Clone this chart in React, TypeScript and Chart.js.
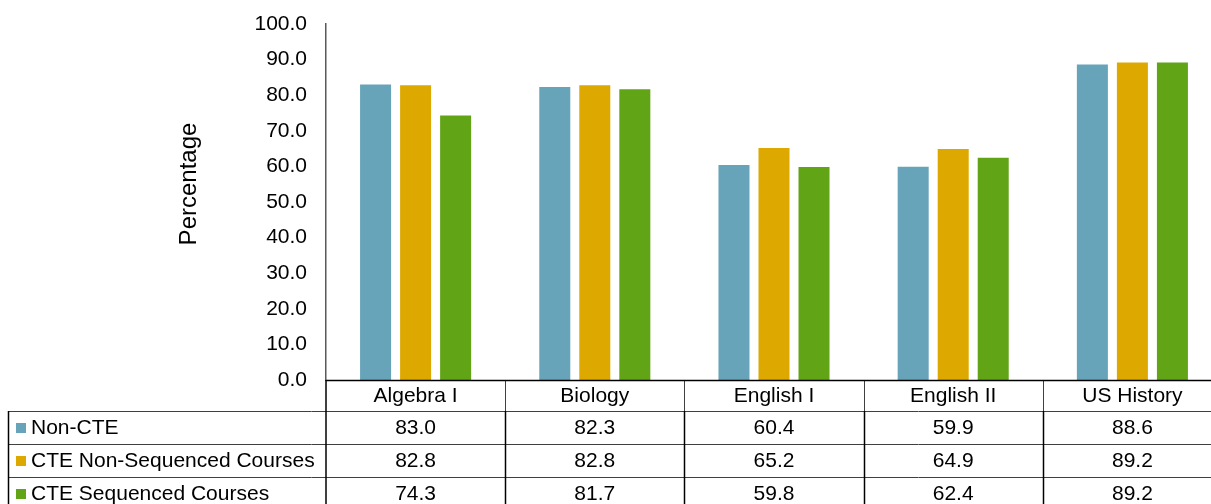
import React, { useEffect, useRef } from "react";
import { Chart, registerables } from "chart.js";

Chart.register(...registerables);

const categories = ["Algebra I", "Biology", "English I", "English II", "US History"];
const seriesNames = ["Non-CTE", "CTE Non-Sequenced Courses", "CTE Sequenced Courses"];
const nonCTE = [83.0, 82.3, 60.4, 59.9, 88.6];
const cteNonSequenced = [82.8, 82.8, 65.2, 64.9, 89.2];
const cteSequenced = [74.3, 81.7, 59.8, 62.4, 89.2];
const seriesColors = ["#67A3B9", "#DDA900", "#61A517"];
const yMin = 0;
const yMax = 100;
const yStep = 10;
const yTitle = "Percentage";

const FONT = "Liberation Sans, Arial, sans-serif";
const FS = 21;

const W = 1230;
const H = 520;

const tablePlugin = {
  id: "dataTable",
  afterDraw(chart: any) {
    const ctx = chart.ctx as CanvasRenderingContext2D;
    const area = chart.chartArea;
    const xs = chart.scales.x;
    const n = categories.length;
    const cw = (area.right - area.left) / n;
    const tableLeft = 8;
    const headerTop = area.bottom;
    const headerBottom = 411;
    const rowH = 33;
    const rows = [nonCTE, cteNonSequenced, cteSequenced];
    const tableBottom = headerBottom + rowH * rows.length;

    ctx.save();
    // y-axis title
    ctx.fillStyle = "#000";
    ctx.font = `24px ${FONT}`;
    ctx.save();
    ctx.translate(189, 184);
    ctx.rotate(-Math.PI / 2);
    ctx.textAlign = "center";
    ctx.textBaseline = "middle";
    ctx.fillText(yTitle, 0, 0);
    ctx.restore();

    // header vertical lines (gray)
    ctx.strokeStyle = "#404040";
    ctx.lineWidth = 1;
    for (let i = 1; i <= n; i++) {
      const x = Math.round(area.left + cw * i) + 0.5;
      ctx.beginPath();
      ctx.moveTo(x, headerTop);
      ctx.lineTo(x, headerBottom);
      ctx.stroke();
    }
    // horizontal lines
    ctx.strokeStyle = "#404040";
    for (let r = 0; r <= rows.length; r++) {
      const y = Math.round(headerBottom + rowH * r) + 0.5;
      ctx.beginPath();
      ctx.moveTo(tableLeft, y);
      ctx.lineTo(area.right, y);
      ctx.stroke();
    }
    // data row vertical lines (black)
    ctx.strokeStyle = "#000";
    ctx.lineWidth = 1.5;
    const vx = [tableLeft + 0.5, area.left];
    for (let i = 1; i <= n; i++) vx.push(Math.round(area.left + cw * i) + 0.5);
    vx.forEach((x) => {
      ctx.beginPath();
      ctx.moveTo(x, headerBottom);
      ctx.lineTo(x, tableBottom);
      ctx.stroke();
    });
    // axis line through header
    ctx.beginPath();
    ctx.moveTo(area.left, headerTop);
    ctx.lineTo(area.left, headerBottom);
    ctx.stroke();
    // bottom axis line
    ctx.lineWidth = 1.5;
    ctx.beginPath();
    ctx.moveTo(area.left, area.bottom + 0.5);
    ctx.lineTo(area.right, area.bottom + 0.5);
    ctx.stroke();

    // header labels
    ctx.fillStyle = "#000";
    ctx.font = `${FS}px ${FONT}`;
    ctx.textAlign = "center";
    ctx.textBaseline = "middle";
    categories.forEach((c, i) => {
      ctx.fillText(c, xs.getPixelForValue(i), (headerTop + headerBottom) / 2 + 1);
    });

    // rows
    rows.forEach((vals, r) => {
      const cy = headerBottom + rowH * r + rowH / 2;
      ctx.fillStyle = seriesColors[r];
      ctx.fillRect(16, Math.round(cy - 5), 10, 10);
      ctx.fillStyle = "#000";
      ctx.textAlign = "left";
      ctx.fillText(seriesNames[r], 31, cy + 1);
      ctx.textAlign = "center";
      vals.forEach((v, i) => {
        ctx.fillText(v.toFixed(1), xs.getPixelForValue(i), cy + 1);
      });
    });
    ctx.restore();
  },
};

export default function App() {
  const ref = useRef<HTMLCanvasElement | null>(null);
  useEffect(() => {
    if (!ref.current) return;
    const data = [nonCTE, cteNonSequenced, cteSequenced];
    const chart = new Chart(ref.current, {
      type: "bar",
      data: {
        labels: categories,
        datasets: data.map((d, i) => ({
          label: seriesNames[i],
          data: d,
          backgroundColor: seriesColors[i],
          categoryPercentage: 0.67,
          barPercentage: 0.775,
        })),
      },
      options: {
        animation: false,
        responsive: false,
        devicePixelRatio: 1,
        layout: { padding: { left: 0, right: 8, top: 24, bottom: 0 } },
        plugins: {
          legend: { display: false },
          tooltip: { enabled: false },
          title: { display: false },
        },
        scales: {
          x: {
            grid: { display: false, drawTicks: false },
            border: { display: false },
            ticks: { display: false },
            afterFit: (s: any) => {
              s.height = 140;
              s.paddingLeft = 0;
              s.paddingRight = 0;
            },
          },
          y: {
            min: yMin,
            max: yMax,
            grid: { display: false, drawTicks: false },
            border: { display: true, color: "#595959", width: 1.5 },
            ticks: {
              stepSize: yStep,
              padding: 19,
              color: "#000",
              font: { family: FONT, size: FS },
              callback: (v: any) => Number(v).toFixed(1),
            },
            afterFit: (s: any) => {
              s.width = 326;
              s.paddingTop = 0;
              s.paddingBottom = 0;
            },
          },
        },
      },
      plugins: [tablePlugin],
    });
    return () => chart.destroy();
  }, []);
  return (
    <div
      style={{
        position: "fixed",
        left: 0,
        top: 0,
        width: 1211,
        height: 504,
        overflow: "hidden",
        background: "#fff",
      }}
    >
      <canvas ref={ref} width={W} height={H} style={{ width: W, height: H, display: "block" }} />
    </div>
  );
}
